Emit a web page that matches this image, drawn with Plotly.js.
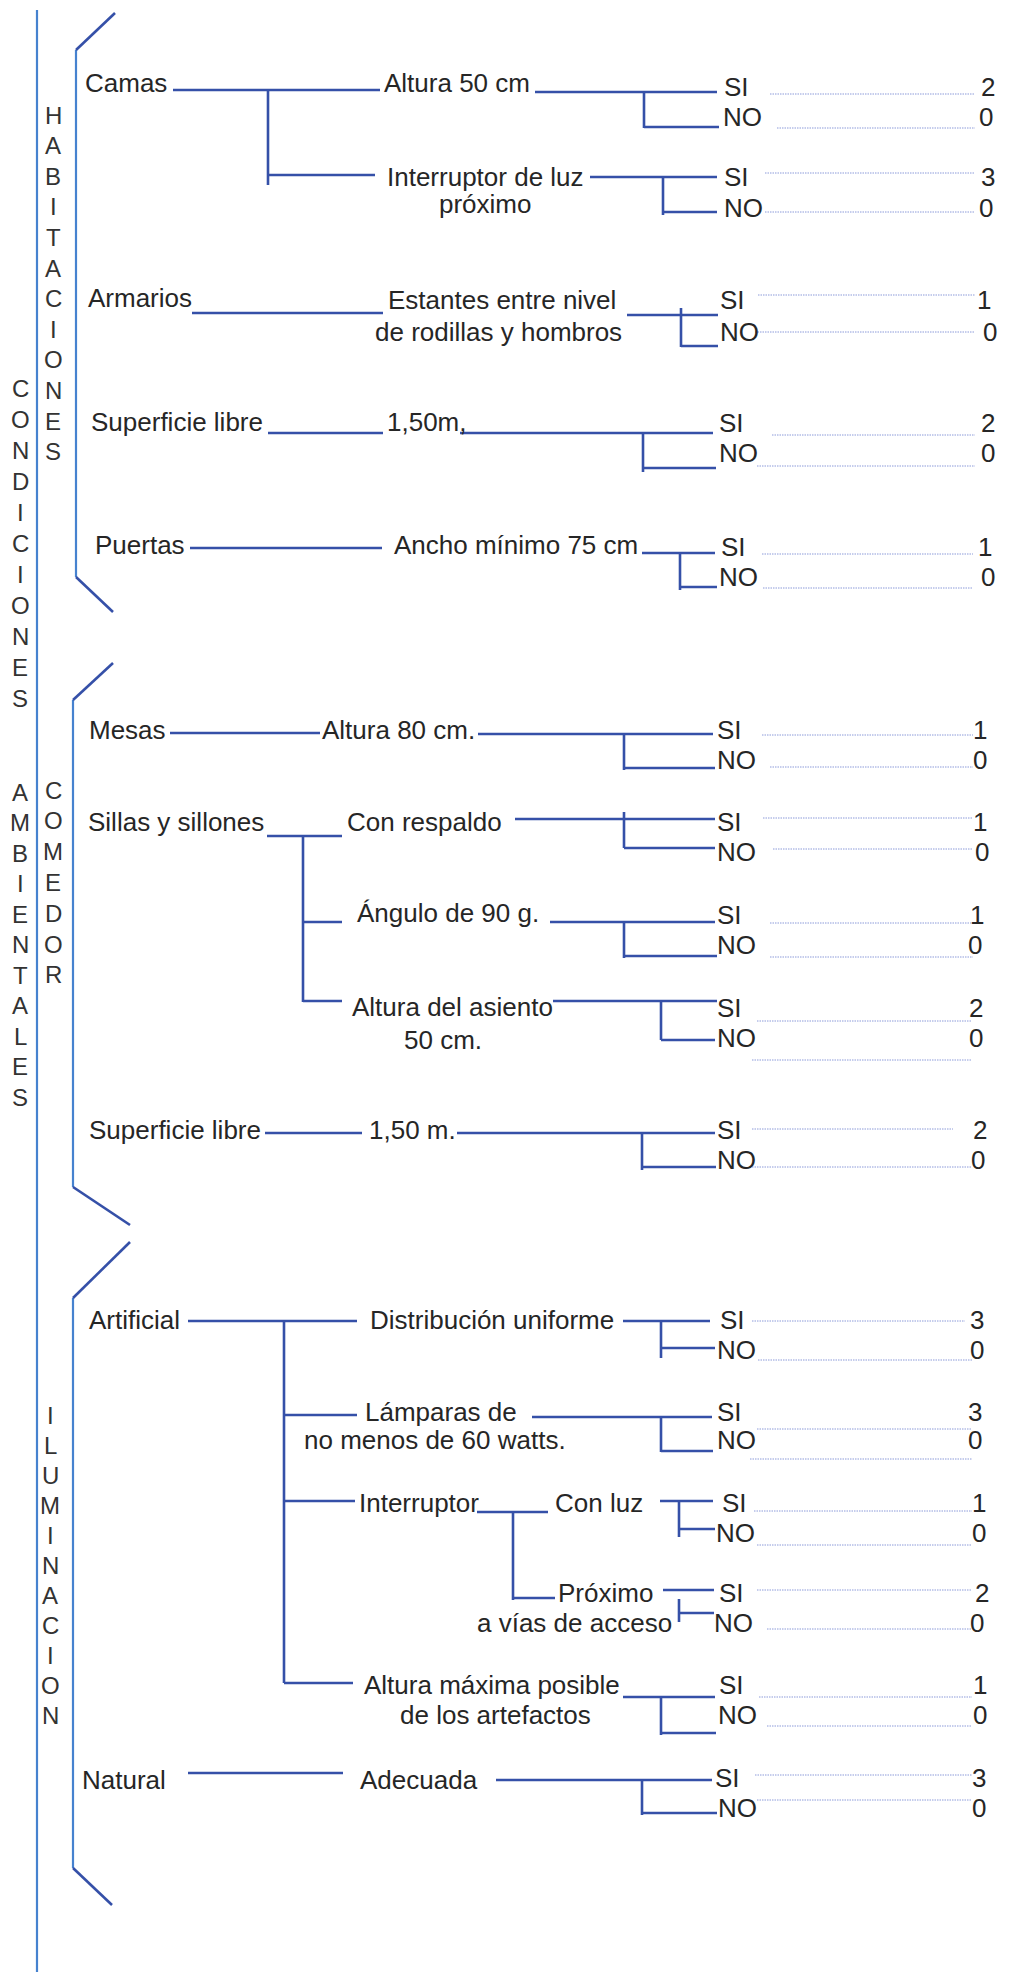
<!DOCTYPE html>
<html><head><meta charset="utf-8">
<script src="https://cdn.plot.ly/plotly-3.0.1.min.js"></script>
<style>html,body{margin:0;padding:0;background:#fff}#chart{width:1027px;height:1972px}</style>
</head><body><div id="chart"></div>
<script>
// ---------------- DATA ----------------
const outerLabels = ["CONDICIONES", "AMBIENTALES"];
const sectionLabels = ["HABITACIONES", "COMEDOR", "ILUMINACION"];
const itemLabels = ["Camas", "Armarios", "Superficie libre", "Puertas", "Mesas",
  "Sillas y sillones", "Superficie libre", "Artificial", "Natural"];
const subItemLabels = ["Interruptor"];
const criteriaLabels = [
  "Altura 50 cm", "Interruptor de luz<br>próximo", "Estantes entre nivel<br>de rodillas y hombros",
  "1,50m,", "Ancho mínimo 75 cm", "Altura 80 cm.", "Con respaldo", "Ángulo de 90 g.",
  "Altura del asiento<br>50 cm.", "1,50 m.", "Distribución uniforme",
  "Lámparas de<br>no menos de 60 watts.", "Con luz", "Próximo<br>a vías de acceso",
  "Altura máxima posible<br>de los artefactos", "Adecuada"];
const answerLabels = ["SI", "NO"];
const siScores = [2, 3, 1, 2, 1, 1, 1, 1, 2, 2, 3, 3, 1, 2, 1, 3];
const noScores = [0, 0, 0, 0, 0, 0, 0, 0, 0, 0, 0, 0, 0, 0, 0, 0];

// ---------------- LAYOUT GEOMETRY (pixel-like axis units) ----------------
const W = 1027, H = 1972;
const outerX = 20, outerY0 = [388, 792], outerStep = [31, 30.5];
const sectionX = [53, 53, 50], sectionY0 = [115, 790, 1415], sectionStep = [30.6, 30.8, 30];
const outerLine = [[37, 10], [37, 1972]];
const brackets = [
  [[115, 13], [76, 50], [76, 577], [113, 612]],
  [[113, 663], [73, 700], [73, 1187], [130, 1225]],
  [[130, 1242], [73, 1298], [73, 1868], [112, 1905]]
];
const itemX = [83, 86, 89, 93, 87, 86, 87, 87, 80];
const itemY = [83, 298, 422, 545, 730, 822, 1130, 1320, 1780];
const itemLineX0 = [173, 192, 268, 190, 170, 267, 265, 188, 188];
const itemLineX1 = [380, 383, 383, 382, 320, 342, 362, 357, 343];
const itemLineY = [90, 313, 433, 548, 733, 836, 1133, 1321, 1773];
const spines = [
  {x: 268, y0: 90, y1: 185, ticks: [[175, 375]]},
  {x: 303, y0: 836, y1: 1002, ticks: [[922, 342], [1001, 342]]},
  {x: 284, y0: 1321, y1: 1683, ticks: [[1415, 357], [1501, 355], [1683, 353]]},
  {x: 513, y0: 1512, y1: 1600, ticks: [[1598, 555]]}
];
const subItemX = [357], subItemY = [1503];
const subLine = [[477, 1512, 548, 1512]];

const critLineX = [[382], [385, 437], [386, 373], [385], [392], [320], [345], [355],
  [350, 402], [367], [368], [363, 302], [553], [556, 475], [362, 398], [358]];
const critLineY = [[83], [177, 204], [300, 332], [422], [545], [730], [822], [913],
  [1007, 1040], [1130], [1320], [1412, 1440], [1503], [1593, 1623], [1685, 1715], [1780]];
const cx0 = [535, 590, 627, 460, 642, 478, 515, 550, 553, 457, 623, 532, 660, 663, 623, 496];
const cx1 = [717, 717, 718, 713, 715, 713, 715, 715, 717, 715, 710, 712, 713, 714, 715, 712];
const cy  = [92, 177, 315, 433, 553, 734, 819, 922, 1001, 1133, 1321, 1417, 1501, 1590, 1697, 1780];
const jx  = [644, 663, 681, 643, 680, 624, 624, 624, 661, 642, 661, 661, 679, 679, 661, 642];
const jTop = [92, 177, 308, 433, 553, 734, 812, 922, 1001, 1133, 1321, 1417, 1501, 1599, 1697, 1780];
const jBot = [128, 215, 347, 472, 590, 770, 848, 958, 1040, 1170, 1358, 1452, 1537, 1622, 1735, 1815];
const hBotY = [127, 212, 346, 468, 587, 768, 848, 956, 1040, 1167, 1348, 1451, 1529, 1613, 1733, 1813];
const hBotX1 = [719, 717, 718, 716, 717, 715, 715, 717, 715, 716, 715, 713, 715, 714, 716, 717];
const siX = [722, 722, 718, 717, 719, 715, 715, 715, 715, 715, 718, 715, 720, 717, 717, 713];
const siY = [87, 177, 300, 423, 547, 730, 822, 915, 1008, 1130, 1320, 1412, 1503, 1593, 1685, 1778];
const noX = [721, 722, 718, 717, 717, 715, 715, 715, 715, 715, 715, 715, 714, 712, 716, 716];
const noY = [117, 208, 332, 453, 577, 760, 852, 945, 1038, 1160, 1350, 1440, 1533, 1623, 1715, 1808];
const dSiX0 = [770, 765, 758, 772, 762, 762, 763, 770, 757, 752, 752, 757, 754, 757, 759, 755];
const dSiX1 = [975, 975, 975, 975, 973, 973, 972, 973, 972, 953, 965, 972, 972, 972, 972, 972];
const dSiY = [94, 173, 295, 435, 554, 735, 818, 923, 1021, 1129, 1321, 1429, 1511, 1590, 1697, 1775];
const dNoX0 = [777, 765, 755, 757, 763, 770, 773, 770, 752, 752, 758, 750, 757, 767, 767, 757];
const dNoX1 = [975, 975, 975, 975, 973, 973, 972, 973, 972, 972, 972, 972, 972, 972, 972, 972];
const dNoY = [128, 212, 332, 466, 588, 767, 849, 957, 1060, 1167, 1360, 1459, 1545, 1629, 1726, 1800];
const numSiX = [988, 988, 984, 988, 985, 980, 980, 977, 976, 980, 977, 975, 979, 982, 980, 979];
const numNoX = [986, 986, 990, 988, 988, 980, 982, 975, 976, 978, 977, 975, 979, 977, 980, 979];

// ---------------- STYLES ----------------
const TREE = "#3550a8", LIGHT = "#4682cf", DOT = "#8c9bd9";
const FAM = "Liberation Sans, Arial, sans-serif";
const TXT = "#262626";
const FS = 26;

// ---------------- BUILD ----------------
function segTrace(segs, color, width, dash) {
  const x = [], y = [];
  segs.forEach(s => { x.push(s[0], s[2], null); y.push(s[1], s[3], null); });
  return {type: "scatter", mode: "lines", x, y, hoverinfo: "skip", showlegend: false,
    line: {color, width, dash: dash || "solid"}};
}
function ann(text, x, y, anchor, size, color) {
  return {text, x, y, xref: "x", yref: "y", xanchor: anchor || "left", yanchor: "middle",
    showarrow: false, font: {family: FAM, size: size || FS, color: color || TXT}};
}

const treeSegs = [], lightSegs = [], dotSegs = [];
const annotations = [];

lightSegs.push([outerLine[0][0], outerLine[0][1], outerLine[1][0], outerLine[1][1]]);
brackets.forEach(b => {
  treeSegs.push([b[0][0], b[0][1], b[1][0], b[1][1]]);
  lightSegs.push([b[1][0], b[1][1], b[2][0], b[2][1]]);
  treeSegs.push([b[2][0], b[2][1], b[3][0], b[3][1]]);
});

outerLabels.forEach((lab, i) => {
  [...lab].forEach((ch, k) => annotations.push(ann(ch, outerX, outerY0[i] + k * outerStep[i], "center", 24, "#333")));
});
sectionLabels.forEach((lab, i) => {
  [...lab].forEach((ch, k) => annotations.push(ann(ch, sectionX[i], sectionY0[i] + k * sectionStep[i], "center", 24, "#333")));
});

itemLabels.forEach((lab, i) => {
  annotations.push(ann(lab, itemX[i], itemY[i]));
  treeSegs.push([itemLineX0[i], itemLineY[i], itemLineX1[i], itemLineY[i]]);
});
spines.forEach(s => {
  treeSegs.push([s.x, s.y0, s.x, s.y1]);
  s.ticks.forEach(t => treeSegs.push([s.x, t[0], t[1], t[0]]));
});
subItemLabels.forEach((lab, i) => annotations.push(ann(lab, subItemX[i], subItemY[i])));
subLine.forEach(s => treeSegs.push(s));

criteriaLabels.forEach((lab, i) => {
  lab.split("<br>").forEach((line, k) => annotations.push(ann(line, critLineX[i][k], critLineY[i][k])));
  treeSegs.push([cx0[i], cy[i], cx1[i], cy[i]]);
  treeSegs.push([jx[i], jTop[i], jx[i], jBot[i]]);
  treeSegs.push([jx[i], hBotY[i], hBotX1[i], hBotY[i]]);
  annotations.push(ann(answerLabels[0], siX[i], siY[i]));
  annotations.push(ann(answerLabels[1], noX[i], noY[i]));
  dotSegs.push([dSiX0[i], dSiY[i], dSiX1[i], dSiY[i]]);
  dotSegs.push([dNoX0[i], dNoY[i], dNoX1[i], dNoY[i]]);
  annotations.push(ann(String(siScores[i]), numSiX[i], siY[i], "center"));
  annotations.push(ann(String(noScores[i]), numNoX[i], noY[i], "center"));
});

const data = [
  segTrace(dotSegs, DOT, 1, "1.5px,1px"),
  segTrace(lightSegs, LIGHT, 2.2),
  segTrace(treeSegs, TREE, 2.6)
];
const layout = {
  width: W, height: H, margin: {l: 0, r: 0, t: 0, b: 0},
  paper_bgcolor: "#ffffff", plot_bgcolor: "#ffffff", showlegend: false,
  xaxis: {range: [0, W], visible: false, fixedrange: true},
  yaxis: {range: [H, 0], visible: false, fixedrange: true},
  annotations
};
Plotly.newPlot("chart", data, layout, {staticPlot: true, displayModeBar: false});
</script>
</body></html>
